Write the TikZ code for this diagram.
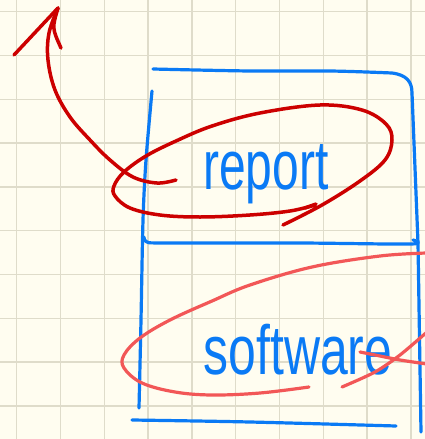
\documentclass[tikz,border=0pt]{standalone}
\usepackage{fontspec}
\setmainfont{Liberation Sans}
\definecolor{paper}{HTML}{FFFDF0}
\definecolor{gridline}{HTML}{DFDCCA}
\definecolor{penblue}{HTML}{0A7AF5}
\definecolor{pendark}{HTML}{CC0000}
\definecolor{penlight}{HTML}{F25757}
\tikzset{
  pen/.style={line width=3.2pt, line cap=round, line join=round},
  bluepen/.style={pen, draw=penblue},
  darkpen/.style={pen, draw=pendark, line width=3.5pt},
  lightpen/.style={pen, draw=penlight, line width=3.2pt},
  word/.style={text=penblue, inner sep=0pt, font=\fontsize{48}{48}\selectfont}
}
\begin{document}
\begin{tikzpicture}[x=1pt, y=-1pt]
  % paper and grid
  \fill[paper] (0,0) rectangle (425,439);
  \useasboundingbox (0,0) rectangle (425,439);
  \foreach \k in {0,...,9} {
    \draw[gridline, line width=1.3pt] ({16.7+43.8*\k},0) -- ({16.7+43.8*\k},439);
    \draw[gridline, line width=1.3pt] (0,{11.7+43.8*\k}) -- (425,{11.7+43.8*\k});
  }

  % box: top edge with rounded corner and right edge
  \draw[bluepen] plot[smooth, tension=0.6] coordinates {(153,69) (250,71) (330,71) (392,73)}
    .. controls (407,75) and (412,82) .. (412,93)
    -- (418,243) -- (421,432);
  % left edge
  \draw[bluepen] plot[smooth] coordinates {(152,91) (146,160) (143,220) (141,320) (139,408)};
  % divider
  \draw[bluepen] plot[smooth, tension=0.5] coordinates {(144,237) (147,242) (165,243) (300,243) (411,244) (413,240)};
  % bottom edge
  \draw[bluepen] plot[smooth] coordinates {(132,420) (250,422) (396,426)};

  % labels
  \node[word, yscale=1.45] (report) at (266,174) {report};
  \node[word, xscale=1.04, yscale=1.45] (software) at (298,350) {software};

  % dark ellipse round the upper label, running on past its start
  \draw[darkpen] plot[smooth, tension=0.6] coordinates {
    (315,205) (290,211) (250,215) (200,217) (160,215) (130,208) (115,196)
    (114,186) (124,172) (146,156) (176,141) (212,126) (260,113) (320,105)
    (362,110) (386,124) (392,140) (385,160) (360,181) (322,205) (283,225)};
  \draw[darkpen] (305,208) -- (316,204);

  % arrow leaving the upper compartment
  \draw[darkpen] plot[smooth, tension=0.6] coordinates {
    (176,180) (157,183) (133,177) (110,160) (90,140) (70,117) (55,90)
    (48,60) (49,33) (58,8)} coordinate (tip);
  \draw[darkpen] (tip) -- (14,55);
  \draw[darkpen] (tip) .. controls (52,28) .. (61,48);

  % light ellipse round the lower label
  \draw[lightpen] plot[smooth, tension=0.6] coordinates {
    (427,253) (380,256) (312,267) (250,285) (212,301) (170,320) (140,338)
    (124,355) (124,368) (142,383) (175,392) (212,395) (260,393) (309,387)};
  \draw[lightpen] plot[smooth] coordinates {(342,387) (375,372) (400,355) (427,332)};
  \draw[lightpen] plot[smooth] coordinates {(360,352) (380,356) (400,360) (427,364)};
\end{tikzpicture}
\end{document}
